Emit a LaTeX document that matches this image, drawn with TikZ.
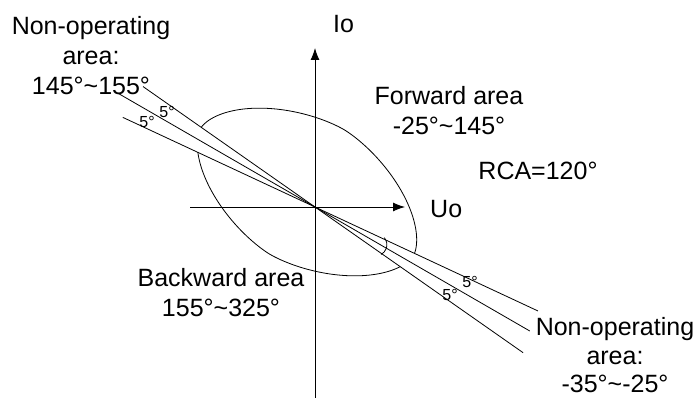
\documentclass[tikz,border=0pt]{standalone}
\usepackage{fontspec}
\setmainfont{Liberation Sans}
\usetikzlibrary{arrows.meta,calc}
\newcommand{\tld}{{\char"7E}}
\begin{document}
\begin{tikzpicture}[x=1pt,y=1pt,
  lbl/.style={inner sep=0pt, align=center, font=\fontsize{25}{30}\selectfont},
  lbltight/.style={inner sep=0pt, align=center, font=\fontsize{25}{28.5}\selectfont},
  small/.style={inner sep=0pt, font=\fontsize{16}{18}\selectfont},
  ln/.style={line width=0.8pt},
  axis/.style={line width=0.9pt, -{Latex[length=12pt,width=9pt]}}]
\useasboundingbox (0,0) rectangle (700,398);
\coordinate (O) at (315,191);
\coordinate (ytop) at (315,350);
\coordinate (ybot) at (315,0);
\coordinate (xl) at (190,191);
\coordinate (xr) at (405,191);
\coordinate (ec) at (307,206);
% axes
\draw[axis] (ybot) -- (ytop);
\draw[axis] (xl) -- (xr);
% boundary lines
\coordinate (a1) at ($(O)+(145:210)$);
\coordinate (a2) at ($(O)+(-35:254)$);
\coordinate (b1) at ($(O)+(150:227)$);
\coordinate (b2) at ($(O)+(-30:248)$);
\coordinate (c1) at ($(O)+(155:212)$);
\coordinate (c2) at ($(O)+(-25:246)$);
\draw[ln] (a1) -- (a2);
\draw[ln] (b1) -- (b2);
\draw[ln] (c1) -- (c2);
% forward arc
\begin{scope}
\clip (O) -- ($(O)+(-25:400)$) -- ($(O)+(20:400)$) -- ($(O)+(60:400)$) -- ($(O)+(100:400)$) -- ($(O)+(145:400)$) -- cycle;
\begin{scope}[shift={(ec)}, rotate=-31]
\draw[ln] plot[domain=0.5:360.5, samples=361, variable=\t]
  ({124*cos(\t)*pow(abs(cos(\t)),0.1765)}, {72.5*sin(\t)*pow(abs(sin(\t)),0.1765)}) -- cycle;
\end{scope}
\end{scope}
% backward arc
\begin{scope}
\clip (O) -- ($(O)+(155:400)$) -- ($(O)+(200:400)$) -- ($(O)+(240:400)$) -- ($(O)+(280:400)$) -- ($(O)+(325:400)$) -- cycle;
\begin{scope}[shift={(ec)}, rotate=-31]
\draw[ln] plot[domain=0.5:360.5, samples=361, variable=\t]
  ({124*cos(\t)*pow(abs(cos(\t)),0.1765)}, {72.5*sin(\t)*pow(abs(sin(\t)),0.1765)}) -- cycle;
\end{scope}
\end{scope}
% angle mark
\coordinate (m1) at (384.3,160.3);
\draw[ln] (m1) arc[start angle=40, end angle=-62, radius=11pt];
% labels
\node[lbl, anchor=base] (nul) at (91,303) {Non-operating\\area:\\145°\tld155°};
\node[lbl, anchor=base west] (io) at (333,365) {Io};
\node[lbl, anchor=base] (fw) at (449,263) {Forward area\\-25°\tld145°};
\node[lbl, anchor=base] (rca) at (538,218) {RCA=120°};
\node[lbl, anchor=base west] (uo) at (430,180) {Uo};
\node[lbl, anchor=base] (bw) at (221,81) {Backward area\\155°\tld325°};
\node[lbltight, anchor=base] (nlr) at (615,5) {Non-operating\\area:\\-35°\tld-25°};
\node[small] (s1) at (167,286) {5°};
\node[small] (s2) at (147,276) {5°};
\node[small] (s3) at (470,116) {5°};
\node[small] (s4) at (450,103) {5°};
\end{tikzpicture}
\end{document}
